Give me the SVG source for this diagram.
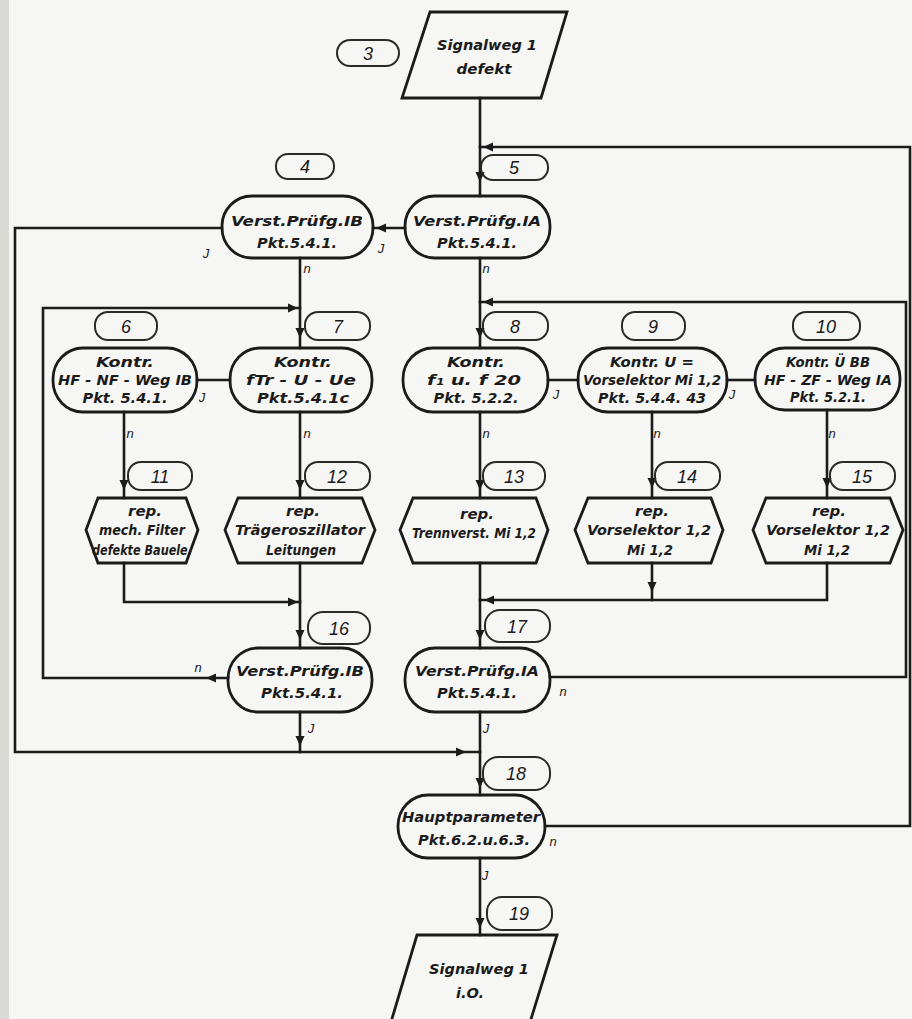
<svg xmlns="http://www.w3.org/2000/svg" xmlns:xlink="http://www.w3.org/1999/xlink" width="912" height="1019" viewBox="0 0 912 1019">
<defs>
<style>
.ln{fill:none;stroke:#1b1b1b;stroke-width:2.6;stroke-linecap:square;stroke-linejoin:miter}
.sh{fill:none;stroke:#1b1b1b;stroke-width:2.8}
.lb{fill:none;stroke:#2a2a2a;stroke-width:2}
.t{font-family:"DejaVu Sans Condensed","DejaVu Sans",sans-serif;font-style:italic;font-weight:bold;font-size:14px;fill:#1b1b1b;text-anchor:middle}
.num{font-family:"Liberation Sans",Arial,sans-serif;font-style:italic;font-size:18px;fill:#1b1b1b;text-anchor:middle}
.yn{font-family:"Liberation Sans",Arial,sans-serif;font-style:italic;font-size:13px;fill:#1b1b1b;text-anchor:middle}
</style>
<path id="ah" d="M0,0 L-10,-4.5 L-10,4.5 Z" fill="#1b1b1b"/>
</defs>
<rect x="0" y="0" width="912" height="1019" fill="#f6f6f4"/>
<rect x="0" y="0" width="9" height="1019" fill="#d9d9d6"/>

<g id="connectors">
<path class="ln" d="M480,98 V196"/>
<path class="ln" d="M480,258 V348"/>
<path class="ln" d="M480,412 V498"/>
<path class="ln" d="M480,563 V648"/>
<path class="ln" d="M480,712 V795"/>
<path class="ln" d="M480,858 V935"/>
<path class="ln" d="M405,228 H373"/>
<path class="ln" d="M222,228 H15 V752 H480"/>
<path class="ln" d="M300,258 V348"/>
<path class="ln" d="M228,678 H43 V308 H300"/>
<path class="ln" d="M550,677 H906 V302 H480"/>
<path class="ln" d="M545,826 H910 V147 H480"/>
<path class="ln" d="M230,380 H197"/>
<path class="ln" d="M548,380 H578"/>
<path class="ln" d="M727,380 H755"/>
<path class="ln" d="M124,412 V498"/>
<path class="ln" d="M300,412 V498"/>
<path class="ln" d="M652,412 V498"/>
<path class="ln" d="M827,410 V498"/>
<path class="ln" d="M124,563 V602 H300"/>
<path class="ln" d="M300,563 V648"/>
<path class="ln" d="M652,563 V600"/>
<path class="ln" d="M827,563 V600 H480"/>
<path class="ln" d="M300,712 V752"/>
<use xlink:href="#ah" transform="translate(480,182) rotate(90)"/>
<use xlink:href="#ah" transform="translate(483,147) rotate(180)"/>
<use xlink:href="#ah" transform="translate(376,228) rotate(180)"/>
<use xlink:href="#ah" transform="translate(298,308)"/>
<use xlink:href="#ah" transform="translate(300,338) rotate(90)"/>
<use xlink:href="#ah" transform="translate(483,302) rotate(180)"/>
<use xlink:href="#ah" transform="translate(480,338) rotate(90)"/>
<use xlink:href="#ah" transform="translate(124,490) rotate(90)"/>
<use xlink:href="#ah" transform="translate(300,490) rotate(90)"/>
<use xlink:href="#ah" transform="translate(480,490) rotate(90)"/>
<use xlink:href="#ah" transform="translate(652,488) rotate(90)"/>
<use xlink:href="#ah" transform="translate(827,488) rotate(90)"/>
<use xlink:href="#ah" transform="translate(298,602)"/>
<use xlink:href="#ah" transform="translate(652,592) rotate(90)"/>
<use xlink:href="#ah" transform="translate(484,600) rotate(180)"/>
<use xlink:href="#ah" transform="translate(300,640) rotate(90)"/>
<use xlink:href="#ah" transform="translate(480,640) rotate(90)"/>
<use xlink:href="#ah" transform="translate(206,678) rotate(180)"/>
<use xlink:href="#ah" transform="translate(300,746) rotate(90)"/>
<use xlink:href="#ah" transform="translate(466,752)"/>
<use xlink:href="#ah" transform="translate(480,788) rotate(90)"/>
<use xlink:href="#ah" transform="translate(480,928) rotate(90)"/>
<text class="yn" x="206" y="258">J</text>
<text class="yn" x="381" y="253">J</text>
<text class="yn" x="307" y="273">n</text>
<text class="yn" x="486" y="273">n</text>
<text class="yn" x="202" y="402">J</text>
<text class="yn" x="556" y="399">J</text>
<text class="yn" x="732" y="399">J</text>
<text class="yn" x="130" y="438">n</text>
<text class="yn" x="307" y="438">n</text>
<text class="yn" x="486" y="438">n</text>
<text class="yn" x="657" y="438">n</text>
<text class="yn" x="832" y="438">n</text>
<text class="yn" x="198" y="672">n</text>
<text class="yn" x="563" y="696">n</text>
<text class="yn" x="311" y="733">J</text>
<text class="yn" x="486" y="733">J</text>
<text class="yn" x="553" y="846">n</text>
<text class="yn" x="485" y="880">J</text>
</g>

<g id="n3">
<rect class="lb" x="337" y="40" width="62" height="26" rx="13"/>
<text class="num" x="368" y="60">3</text>
<polygon class="sh" points="430,12 567,12 541,98 402,98"/>
<text class="t" x="487" y="50" textLength="100" lengthAdjust="spacingAndGlyphs">Signalweg 1</text>
<text class="t" x="484" y="74" textLength="55" lengthAdjust="spacingAndGlyphs">defekt</text>
</g>

<g id="n4">
<rect class="lb" x="276" y="154" width="58" height="25" rx="12"/>
<text class="num" x="305" y="173">4</text>
<rect class="sh" x="222" y="196" width="151" height="62" rx="30" ry="30"/>
<text class="t" x="297" y="226" textLength="132" lengthAdjust="spacingAndGlyphs">Verst.Prüfg.IB</text>
<text class="t" x="297" y="248" textLength="80" lengthAdjust="spacingAndGlyphs">Pkt.5.4.1.</text>
</g>

<g id="n5">
<rect class="lb" x="481" y="155" width="67" height="25" rx="12"/>
<text class="num" x="514" y="174">5</text>
<rect class="sh" x="405" y="196" width="145" height="62" rx="30" ry="30"/>
<text class="t" x="477" y="226" textLength="128" lengthAdjust="spacingAndGlyphs">Verst.Prüfg.IA</text>
<text class="t" x="477" y="248" textLength="80" lengthAdjust="spacingAndGlyphs">Pkt.5.4.1.</text>
</g>

<g id="n6">
<rect class="lb" x="95" y="312" width="62" height="28" rx="13"/>
<text class="num" x="126" y="333">6</text>
<rect class="sh" x="53" y="348" width="144" height="64" rx="30" ry="31"/>
<text class="t" x="125" y="367" textLength="58" lengthAdjust="spacingAndGlyphs">Kontr.</text>
<text class="t" x="125" y="385" textLength="134" lengthAdjust="spacingAndGlyphs">HF - NF - Weg IB</text>
<text class="t" x="125" y="403" textLength="85" lengthAdjust="spacingAndGlyphs">Pkt. 5.4.1.</text>
</g>

<g id="n7">
<rect class="lb" x="305" y="312" width="65" height="28" rx="13"/>
<text class="num" x="338" y="333">7</text>
<rect class="sh" x="230" y="348" width="142" height="64" rx="30" ry="31"/>
<text class="t" x="303" y="367" textLength="58" lengthAdjust="spacingAndGlyphs">Kontr.</text>
<text class="t" x="301" y="385" textLength="110" lengthAdjust="spacingAndGlyphs">fTr - U - Ue</text>
<text class="t" x="303" y="403" textLength="92" lengthAdjust="spacingAndGlyphs">Pkt.5.4.1c</text>
</g>

<g id="n8">
<rect class="lb" x="483" y="312" width="65" height="28" rx="13"/>
<text class="num" x="515" y="333">8</text>
<rect class="sh" x="403" y="348" width="145" height="64" rx="30" ry="31"/>
<text class="t" x="476" y="367" textLength="58" lengthAdjust="spacingAndGlyphs">Kontr.</text>
<text class="t" x="474" y="385" textLength="94" lengthAdjust="spacingAndGlyphs">f₁ u. f 20</text>
<text class="t" x="476" y="403" textLength="85" lengthAdjust="spacingAndGlyphs">Pkt. 5.2.2.</text>
</g>

<g id="n9">
<rect class="lb" x="622" y="312" width="63" height="28" rx="13"/>
<text class="num" x="653" y="333">9</text>
<rect class="sh" x="578" y="348" width="149" height="64" rx="30" ry="31"/>
<text class="t" x="652" y="367" textLength="84" lengthAdjust="spacingAndGlyphs">Kontr. U =</text>
<text class="t" x="652" y="385" textLength="138" lengthAdjust="spacingAndGlyphs">Vorselektor Mi 1,2</text>
<text class="t" x="652" y="403" textLength="108" lengthAdjust="spacingAndGlyphs">Pkt. 5.4.4. 43</text>
</g>

<g id="n10">
<rect class="lb" x="793" y="312" width="67" height="28" rx="13"/>
<text class="num" x="826" y="333">10</text>
<rect class="sh" x="755" y="348" width="145" height="62" rx="30" ry="30"/>
<text class="t" x="828" y="367" textLength="84" lengthAdjust="spacingAndGlyphs">Kontr. Ü BB</text>
<text class="t" x="828" y="385" textLength="128" lengthAdjust="spacingAndGlyphs">HF - ZF - Weg IA</text>
<text class="t" x="828" y="402" textLength="76" lengthAdjust="spacingAndGlyphs">Pkt. 5.2.1.</text>
</g>

<g id="n11">
<rect class="lb" x="128" y="462" width="64" height="28" rx="13"/>
<text class="num" x="160" y="483">11</text>
<polygon class="sh" points="98,498 186,498 198,530 186,563 98,563 86,530"/>
<text class="t" x="145" y="516" textLength="34" lengthAdjust="spacingAndGlyphs">rep.</text>
<text class="t" x="142" y="535" textLength="86" lengthAdjust="spacingAndGlyphs">mech. Filter</text>
<text class="t" x="142" y="555" textLength="100" lengthAdjust="spacingAndGlyphs">defekte Bauele.</text>
</g>

<g id="n12">
<rect class="lb" x="305" y="462" width="65" height="28" rx="13"/>
<text class="num" x="337" y="483">12</text>
<polygon class="sh" points="238,498 362,498 375,530 362,563 238,563 225,530"/>
<text class="t" x="303" y="516" textLength="34" lengthAdjust="spacingAndGlyphs">rep.</text>
<text class="t" x="300" y="535" textLength="130" lengthAdjust="spacingAndGlyphs">Trägeroszillator</text>
<text class="t" x="301" y="555" textLength="70" lengthAdjust="spacingAndGlyphs">Leitungen</text>
</g>

<g id="n13">
<rect class="lb" x="483" y="462" width="62" height="28" rx="13"/>
<text class="num" x="514" y="483">13</text>
<polygon class="sh" points="413,498 536,498 548,530 536,563 413,563 400,530"/>
<text class="t" x="477" y="519" textLength="34" lengthAdjust="spacingAndGlyphs">rep.</text>
<text class="t" x="474" y="538" textLength="124" lengthAdjust="spacingAndGlyphs">Trennverst. Mi 1,2</text>
</g>

<g id="n14">
<rect class="lb" x="655" y="462" width="65" height="28" rx="13"/>
<text class="num" x="687" y="483">14</text>
<polygon class="sh" points="588,498 711,498 723,530 711,563 588,563 575,530"/>
<text class="t" x="652" y="516" textLength="34" lengthAdjust="spacingAndGlyphs">rep.</text>
<text class="t" x="649" y="535" textLength="124" lengthAdjust="spacingAndGlyphs">Vorselektor 1,2</text>
<text class="t" x="650" y="555" textLength="46" lengthAdjust="spacingAndGlyphs">Mi 1,2</text>
</g>

<g id="n15">
<rect class="lb" x="830" y="462" width="65" height="28" rx="13"/>
<text class="num" x="862" y="483">15</text>
<polygon class="sh" points="766,498 890,498 903,530 890,563 766,563 753,530"/>
<text class="t" x="829" y="516" textLength="34" lengthAdjust="spacingAndGlyphs">rep.</text>
<text class="t" x="828" y="535" textLength="124" lengthAdjust="spacingAndGlyphs">Vorselektor 1,2</text>
<text class="t" x="827" y="555" textLength="46" lengthAdjust="spacingAndGlyphs">Mi 1,2</text>
</g>

<g id="n16">
<rect class="lb" x="308" y="612" width="62" height="32" rx="15"/>
<text class="num" x="339" y="635">16</text>
<rect class="sh" x="228" y="648" width="144" height="64" rx="30" ry="31"/>
<text class="t" x="300" y="676" textLength="128" lengthAdjust="spacingAndGlyphs">Verst.Prüfg.IB</text>
<text class="t" x="302" y="698" textLength="82" lengthAdjust="spacingAndGlyphs">Pkt.5.4.1.</text>
</g>

<g id="n17">
<rect class="lb" x="485" y="610" width="65" height="32" rx="15"/>
<text class="num" x="517" y="633">17</text>
<rect class="sh" x="405" y="648" width="145" height="64" rx="30" ry="31"/>
<text class="t" x="477" y="676" textLength="124" lengthAdjust="spacingAndGlyphs">Verst.Prüfg.IA</text>
<text class="t" x="477" y="698" textLength="80" lengthAdjust="spacingAndGlyphs">Pkt.5.4.1.</text>
</g>

<g id="n18">
<rect class="lb" x="483" y="757" width="67" height="33" rx="15"/>
<text class="num" x="516" y="780">18</text>
<rect class="sh" x="398" y="795" width="147" height="63" rx="30" ry="31"/>
<text class="t" x="471" y="822" textLength="138" lengthAdjust="spacingAndGlyphs">Hauptparameter</text>
<text class="t" x="474" y="845" textLength="112" lengthAdjust="spacingAndGlyphs">Pkt.6.2.u.6.3.</text>
</g>

<g id="n19">
<rect class="lb" x="487" y="897" width="65" height="33" rx="15"/>
<text class="num" x="519" y="920">19</text>
<polygon class="sh" points="417,935 557,935 527,1032 388,1032"/>
<text class="t" x="479" y="974" textLength="100" lengthAdjust="spacingAndGlyphs">Signalweg 1</text>
<text class="t" x="470" y="998" textLength="28" lengthAdjust="spacingAndGlyphs">i.O.</text>
</g>
</svg>
